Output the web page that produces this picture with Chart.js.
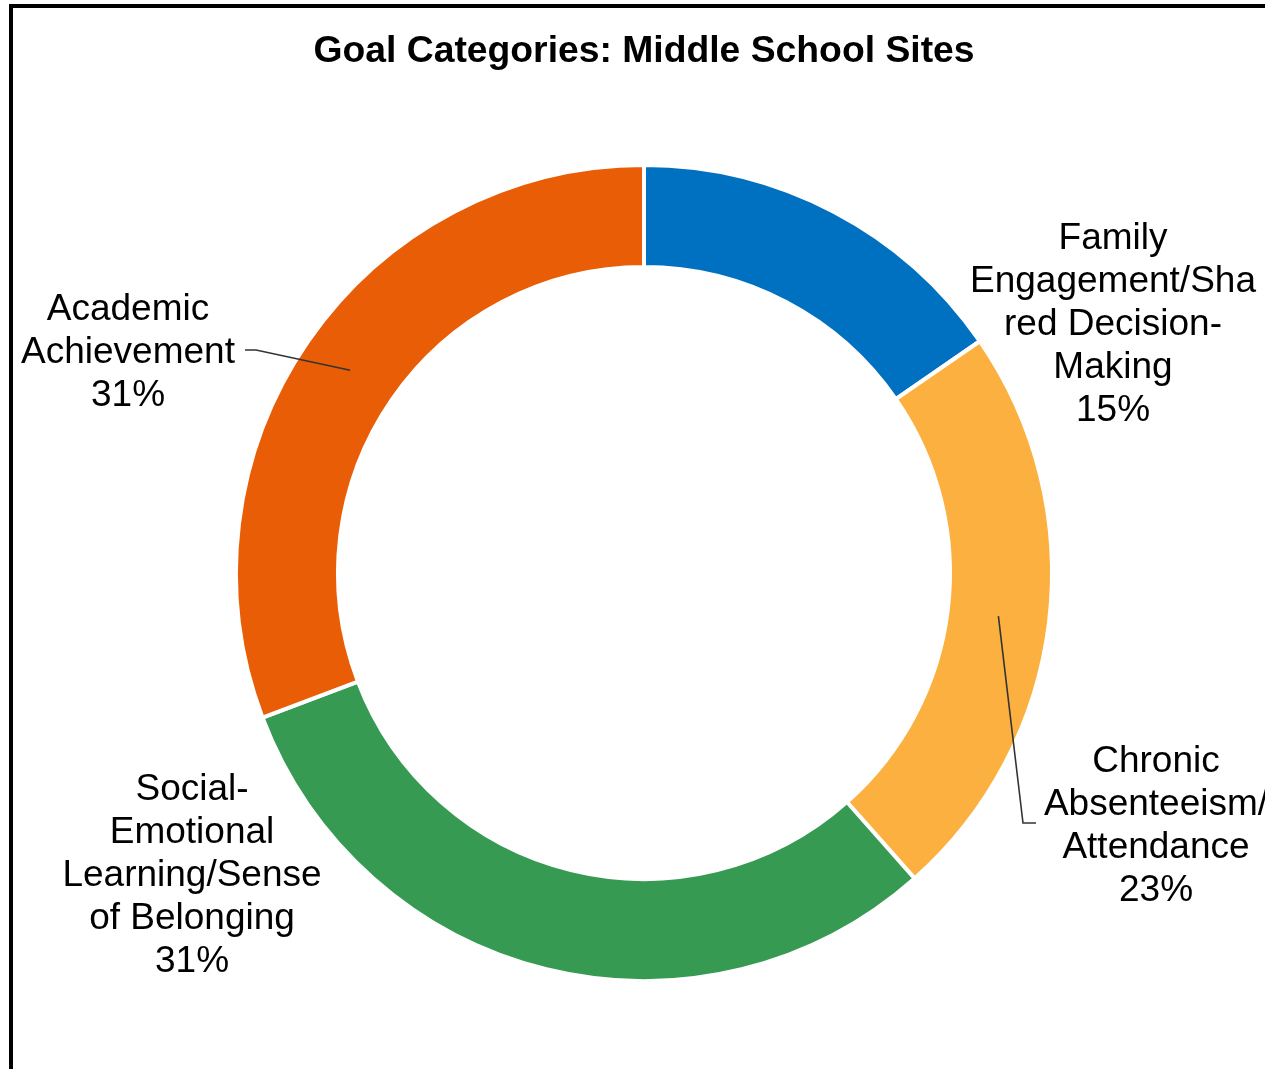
<!DOCTYPE html>
<html>
<head>
<meta charset="utf-8">
<script src="https://cdn.jsdelivr.net/npm/chart.js@4.4.1/dist/chart.umd.min.js"></script>
<style>
  html, body { margin: 0; padding: 0; background: #fff; }
  #wrap { width: 1265px; height: 1069px; position: relative; }
</style>
</head>
<body>
<div id="wrap"><canvas id="goalChart"></canvas></div>
<script>
// Goal categories (counts of sites), clockwise from 12 o'clock
const categories = [
  'Family Engagement/Shared Decision-Making',
  'Chronic Absenteeism/Attendance',
  'Social-Emotional Learning/Sense of Belonging',
  'Academic Achievement'
];
const siteCounts = [2, 3, 4, 4];
const sliceColors = ['#0070C0', '#FBB040', '#369A53', '#E85D05'];

// how each label wraps in the picture
const labelLines = [
  ['Family', 'Engagement/Sha', 'red Decision-', 'Making'],
  ['Chronic', 'Absenteeism/', 'Attendance'],
  ['Social-', 'Emotional', 'Learning/Sense', 'of Belonging'],
  ['Academic', 'Achievement']
];

// label placement (centre x, first baseline) and optional leader elbow
const labelLayout = [
  { x: 1113, y: 249 },
  { x: 1156, y: 772, elbow: [[1023, 823], [1036, 823]] },
  { x: 192, y: 800 },
  { x: 128, y: 320, elbow: [[256, 350], [245, 350]] }
];

const FONT = '"Liberation Sans", Arial, Helvetica, sans-serif';
const LINE_H = 43;

const total = siteCounts.reduce((a, b) => a + b, 0);

const labelPlugin = {
  id: 'excelLabels',
  afterDraw(chart) {
    const ctx = chart.ctx;
    const arcs = chart.getDatasetMeta(0).data;
    ctx.save();

    // frame
    ctx.strokeStyle = '#000';
    ctx.lineWidth = 4;
    ctx.strokeRect(11, 6, 1400, 1200);

    // title
    ctx.fillStyle = '#000';
    ctx.font = 'bold 37.3px ' + FONT;
    ctx.textAlign = 'center';
    ctx.textBaseline = 'alphabetic';
    ctx.fillText('Goal Categories: Middle School Sites', 644, 62);

    // leader lines
    ctx.strokeStyle = '#333333';
    ctx.lineWidth = 1.6;
    labelLayout.forEach((lay, i) => {
      if (!lay.elbow) return;
      const p = arcs[i].getCenterPoint();
      ctx.beginPath();
      ctx.moveTo(p.x, p.y);
      lay.elbow.forEach(pt => ctx.lineTo(pt[0], pt[1]));
      ctx.stroke();
    });

    // labels
    ctx.font = '37px ' + FONT;
    labelLayout.forEach((lay, i) => {
      const pct = Math.round(siteCounts[i] / total * 100) + '%';
      const lines = labelLines[i].concat([pct]);
      lines.forEach((t, k) => ctx.fillText(t, lay.x, lay.y + k * LINE_H));
    });
    ctx.restore();
  }
};

new Chart(document.getElementById('goalChart').getContext('2d'), {
  type: 'doughnut',
  data: {
    labels: categories,
    datasets: [{
      data: siteCounts,
      backgroundColor: sliceColors,
      borderColor: '#ffffff',
      borderWidth: 4,
      hoverOffset: 0
    }]
  },
  options: {
    responsive: true,
    maintainAspectRatio: false,
    animation: false,
    cutout: '75%',
    layout: { padding: { left: 234, right: 211, top: 163, bottom: 86 } },
    plugins: {
      legend: { display: false },
      tooltip: { enabled: false },
      title: { display: false }
    },
    events: []
  },
  plugins: [labelPlugin]
});
</script>
</body>
</html>
